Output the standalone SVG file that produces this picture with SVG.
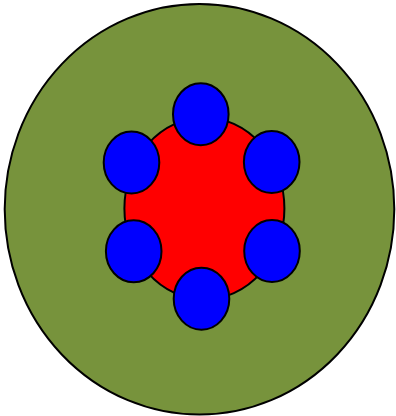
<svg xmlns="http://www.w3.org/2000/svg" width="396" height="416" viewBox="0 0 396 416">
<style>
.o{fill:#77933c;stroke:#000;stroke-width:2}
.r{fill:#ff0000;stroke:#000;stroke-width:2}
.b{fill:#0000ff;stroke:#000;stroke-width:2}
</style>
<rect width="396" height="416" fill="#fff"/>
<g id="outer"><ellipse class="o" cx="199.5" cy="209.3" rx="194.8" ry="205.3"/></g>
<g id="core"><ellipse class="r" cx="204.4" cy="208.5" rx="80" ry="91"/></g>
<g id="b1"><ellipse class="b" cx="200.8" cy="114.2" rx="27.8" ry="31"/></g>
<g id="b2"><ellipse class="b" cx="131.5" cy="162.5" rx="27.8" ry="31"/></g>
<g id="b3"><ellipse class="b" cx="271.7" cy="162" rx="27.8" ry="31"/></g>
<g id="b4"><ellipse class="b" cx="133.7" cy="251.3" rx="27.8" ry="31"/></g>
<g id="b5"><ellipse class="b" cx="272" cy="251" rx="27.8" ry="31"/></g>
<g id="b6"><ellipse class="b" cx="201.5" cy="298.7" rx="27.8" ry="31"/></g>
<g id="connectors"></g>
</svg>
